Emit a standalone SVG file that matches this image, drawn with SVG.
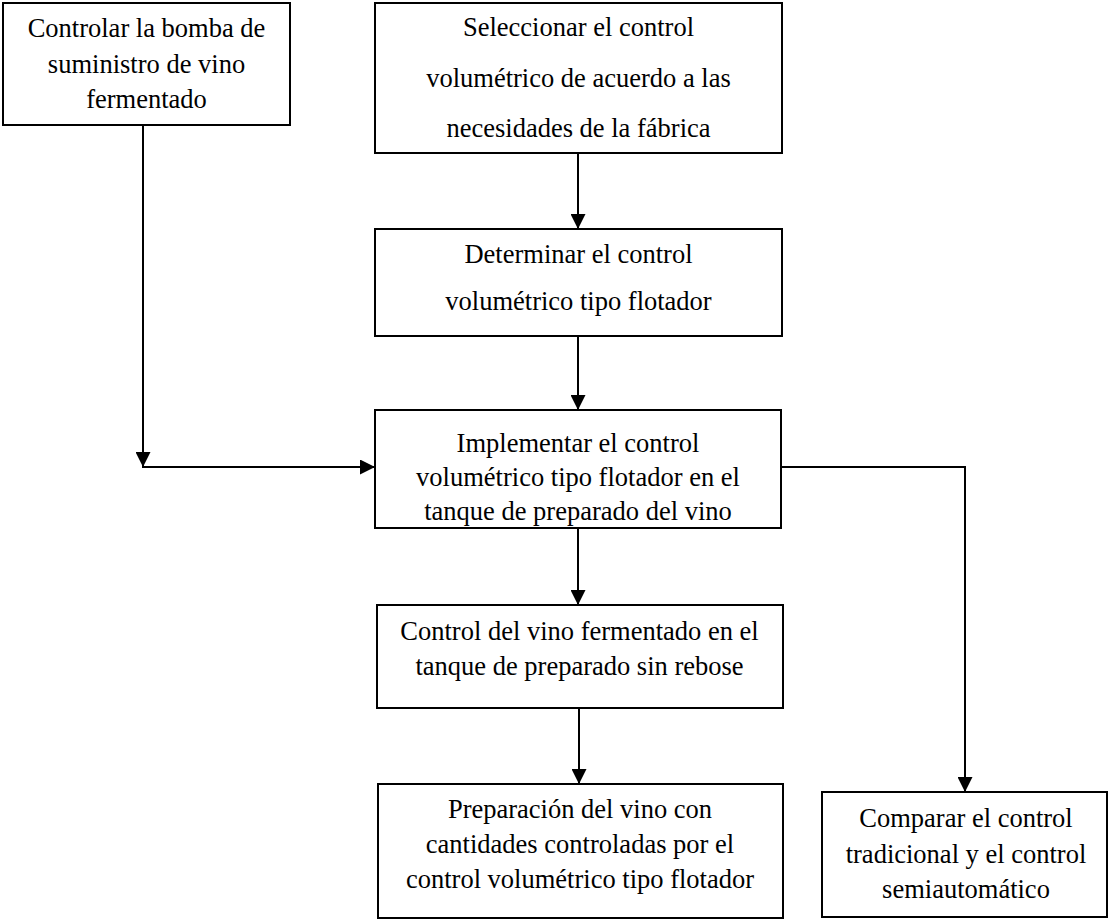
<svg xmlns="http://www.w3.org/2000/svg" width="1109" height="920" viewBox="0 0 1109 920">
  <defs>
    <style>
      .box { fill: #ffffff; stroke: #000000; stroke-width: 2; }
      .lbl { font-family: "Liberation Serif", "Times New Roman", serif; font-size: 26.5px; fill: #000000; text-anchor: middle; }
      .wire { fill: none; stroke: #000000; stroke-width: 2; }
    </style>
    <marker id="head" markerUnits="userSpaceOnUse" markerWidth="15" markerHeight="15" refX="15" refY="7.5" orient="auto">
      <path d="M0,0 L15,7.5 L0,15 Z" fill="#000000"/>
    </marker>
  </defs>
  <rect width="1109" height="920" fill="#ffffff"/>

  <g id="connectors">
    <line class="wire" x1="578" y1="153" x2="578" y2="229" marker-end="url(#head)"/>
    <line class="wire" x1="578" y1="336" x2="578" y2="410" marker-end="url(#head)"/>
    <line class="wire" x1="578" y1="528" x2="578" y2="605" marker-end="url(#head)"/>
    <line class="wire" x1="579" y1="708" x2="579" y2="784" marker-end="url(#head)"/>
    <line class="wire" x1="143" y1="125" x2="143" y2="467" marker-end="url(#head)"/>
    <line class="wire" x1="142" y1="467" x2="375" y2="467" marker-end="url(#head)"/>
    <polyline class="wire" points="781,467 965,467 965,792" marker-end="url(#head)"/>
  </g>

  <g id="bomba">
    <rect class="box" x="3" y="3" width="287" height="122"/>
    <text class="lbl" x="146.5" y="37">Controlar la bomba de</text>
    <text class="lbl" x="146.5" y="73">suministro de vino</text>
    <text class="lbl" x="146.5" y="108">fermentado</text>
  </g>

  <g id="seleccionar">
    <rect class="box" x="375" y="3" width="407" height="150"/>
    <text class="lbl" x="578.5" y="36">Seleccionar el control</text>
    <text class="lbl" x="578.5" y="87">volumétrico de acuerdo a las</text>
    <text class="lbl" x="578.5" y="137">necesidades de la fábrica</text>
  </g>

  <g id="determinar">
    <rect class="box" x="375" y="229" width="407" height="107"/>
    <text class="lbl" x="578.5" y="263">Determinar el control</text>
    <text class="lbl" x="578.5" y="310">volumétrico tipo flotador</text>
  </g>

  <g id="implementar">
    <rect class="box" x="375" y="410" width="406" height="118"/>
    <text class="lbl" x="578" y="452">Implementar el control</text>
    <text class="lbl" x="578" y="486">volumétrico tipo flotador en el</text>
    <text class="lbl" x="578" y="520">tanque de preparado del vino</text>
  </g>

  <g id="control-vino">
    <rect class="box" x="377" y="605" width="406" height="103"/>
    <text class="lbl" x="579.5" y="640">Control del vino fermentado en el</text>
    <text class="lbl" x="579.5" y="675">tanque de preparado sin rebose</text>
  </g>

  <g id="preparacion">
    <rect class="box" x="378" y="784" width="405" height="134"/>
    <text class="lbl" x="580" y="818">Preparación del vino con</text>
    <text class="lbl" x="580" y="853">cantidades controladas por el</text>
    <text class="lbl" x="580" y="888">control volumétrico tipo flotador</text>
  </g>

  <g id="comparar">
    <rect class="box" x="822" y="792" width="285" height="125"/>
    <text class="lbl" x="966" y="827">Comparar el control</text>
    <text class="lbl" x="966" y="863">tradicional y el control</text>
    <text class="lbl" x="966" y="898">semiautomático</text>
  </g>
</svg>
